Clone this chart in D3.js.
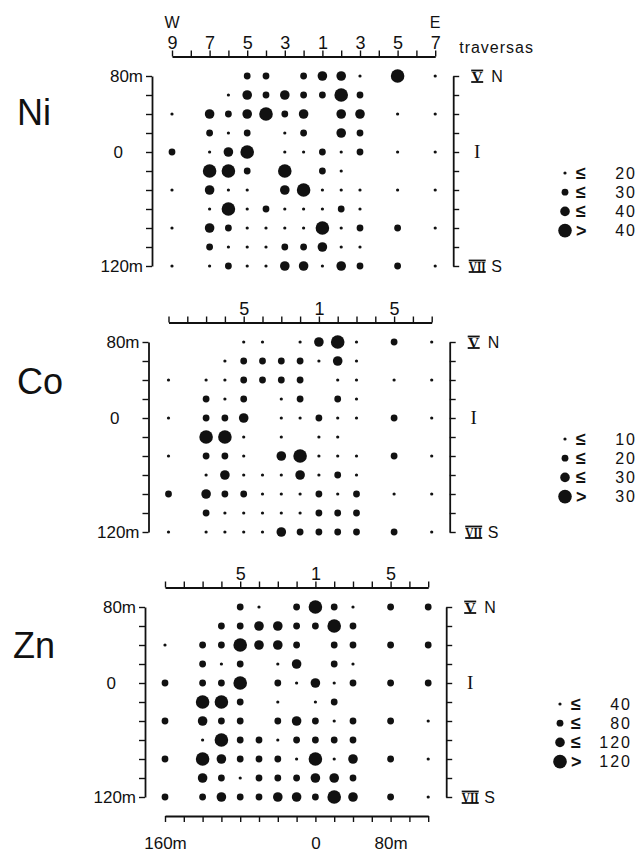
<!DOCTYPE html>
<html><head><meta charset="utf-8">
<script src="https://cdn.jsdelivr.net/npm/d3@7"></script>
<style>
body{margin:0;background:#fff}
svg{display:block}
text{font-family:"Liberation Sans",Arial,sans-serif;fill:#111}
</style></head><body>
<svg id="chart" width="642" height="855"></svg>
<script>
// Sampling grid: traverse positions (m east of traverse 1) and line positions (m north of line I)
const eastings = [-160,-140,-120,-100,-80,-60,-40,-20,0,20,40,60,80,100,120];
const traversaNumbers = [9,8,7,6,5,4,3,2,1,2,3,4,5,6,7];
const northings = [80,60,40,20,0,-20,-40,-60,-80,-100,-120];

const lineLabels = [[80,"80m"],[0,"0"],[-120,"120m"]];
const lineNames = [[80,"V","N"],[0,"I",""],[-120,"VII","S"]];
const scaleLabels = [[-160,"160m"],[0,"0"],[80,"80m"]];

// Concentration classes (ppm)
const niLimits = [20,30,40];
const coLimits = [10,20,30];
const znLimits = [40,80,120];

const _ = null; // no sample
const niValues = [
  [_,_,_,_,25,25,_,25,35,35,15,_,48,_,15],
  [_,_,_,15,35,25,35,25,25,48,25,_,_,_,_],
  [15,_,35,25,35,48,25,35,_,35,35,_,15,_,15],
  [_,_,25,15,25,_,15,25,_,35,25,_,_,_,_],
  [25,_,15,35,48,_,15,15,25,15,25,_,15,_,15],
  [_,_,48,48,25,_,48,_,25,15,_,_,_,_,_],
  [15,_,35,15,15,_,35,48,15,15,15,_,15,_,15],
  [_,_,15,48,15,25,15,15,15,25,15,_,_,_,_],
  [15,_,35,25,15,15,15,15,48,15,25,_,25,_,15],
  [_,_,25,15,15,15,25,25,35,15,15,_,_,_,_],
  [15,_,15,25,15,15,35,35,15,35,25,_,25,_,15]
];
const coValues = [
  [_,_,_,_,6,6,_,6,25,36,6,_,15,_,6],
  [_,_,_,6,15,15,15,15,6,25,6,_,_,_,_],
  [6,_,6,6,15,15,15,15,_,6,6,_,6,_,6],
  [_,_,15,6,15,_,6,15,_,15,6,_,_,_,_],
  [6,_,15,15,25,_,6,6,15,6,6,_,15,_,6],
  [_,_,36,36,6,_,6,_,6,6,_,_,_,_,_],
  [6,_,15,15,6,_,25,36,6,6,6,_,15,_,6],
  [_,_,6,25,6,6,6,25,6,15,6,_,_,_,_],
  [15,_,25,15,15,6,6,6,15,6,15,_,6,_,6],
  [_,_,15,6,6,6,6,6,15,15,15,_,_,_,_],
  [6,_,6,6,6,6,25,15,15,15,15,_,15,_,6]
];
const znValues = [
  [_,_,_,_,60,30,_,60,150,60,30,_,60,_,60],
  [_,_,_,60,60,100,100,60,60,150,60,_,_,_,_],
  [30,_,60,60,150,100,100,60,_,60,60,_,60,_,60],
  [_,_,60,30,60,_,30,100,_,60,30,_,_,_,_],
  [60,_,60,60,150,_,60,30,100,30,60,_,60,_,60],
  [_,_,150,150,60,_,30,_,30,60,_,_,_,_,_],
  [60,_,100,60,60,_,60,100,60,30,60,_,60,_,30],
  [_,_,30,150,60,60,30,60,60,60,60,_,_,_,_],
  [60,_,150,100,60,60,60,30,150,30,100,_,60,_,30],
  [_,_,100,60,30,60,60,60,100,100,60,_,_,_,_],
  [60,_,60,100,60,60,100,100,60,150,100,_,60,_,30]
];

// Layout of the three maps
const panels = [
  {name:"Ni", values:niValues, limits:niLimits, x0:172, y0:76, nameX:17, nameDy:49, legendX:565, topLabels:[0,2,4,6,8,10,12,14], compass:true},
  {name:"Co", values:coValues, limits:coLimits, x0:168.5, y0:342, nameX:17, nameDy:52, legendX:565, topLabels:[4,8,12]},
  {name:"Zn", values:znValues, limits:znLimits, x0:165, y0:607, nameX:13, nameDy:51, legendX:560, topLabels:[4,8,12], bottomScale:true}
];

const colStep = 18.8, rowStep = 19;
const radii = [1.6, 3.4, 4.8, 6.8];
const ink = "#111";
const svg = d3.select("#chart");

function styleAxis(g, size){
  g.select(".domain").attr("stroke", ink).attr("stroke-width", 1.8);
  g.selectAll(".tick line").attr("stroke", ink).attr("stroke-width", 1.4);
  g.selectAll(".tick text").attr("fill", ink)
    .style("font-family", '"Liberation Sans",Arial,sans-serif').style("font-size", size + "px");
}

panels.forEach(p => {
  const x = d3.scaleLinear()
    .domain([eastings[0], eastings[eastings.length - 1]])
    .range([p.x0, p.x0 + colStep * (eastings.length - 1)]);
  const y = d3.scaleLinear()
    .domain([northings[0], northings[northings.length - 1]])
    .range([p.y0, p.y0 + rowStep * (northings.length - 1)]);
  const r = d3.scaleThreshold().domain(p.limits).range(radii);
  const g = svg.append("g");

  const xLeft = x.range()[0] - 20, xRight = x.range()[1] + 18;
  const yTop = p.y0 - 19.5;

  // traverse numbers along the top
  const topAxis = g.append("g").attr("transform", `translate(0,${yTop})`)
    .call(d3.axisTop(x).tickValues(eastings).tickSize(6).tickSizeOuter(0).tickPadding(2)
      .tickFormat((d, i) => p.topLabels.includes(i) ? traversaNumbers[i] : ""));
  styleAxis(topAxis, 18);

  if (p.compass) {
    g.append("text").attr("x", x(eastings[0])).attr("y", 28).attr("text-anchor", "middle")
      .style("font-size", "16px").text("W");
    g.append("text").attr("x", x(eastings[eastings.length - 1])).attr("y", 28).attr("text-anchor", "middle")
      .style("font-size", "16px").text("E");
    g.append("text").attr("x", xRight + 6).attr("y", yTop - 4)
      .style("font-size", "16px").style("letter-spacing", "1px").text("traversas");
  }

  // left distance scale
  const leftAxis = g.append("g").attr("transform", `translate(${xLeft},0)`)
    .call(d3.axisLeft(y).tickValues(northings).tickSize(6).tickSizeOuter(0).tickFormat(""));
  styleAxis(leftAxis, 17);
  g.selectAll("text.dist").data(lineLabels).join("text").attr("class", "dist")
    .attr("x", d => d[0] === 0 ? xLeft - 29 : xLeft - 9)
    .attr("y", d => y(d[0]) + 6)
    .attr("text-anchor", "end").style("font-size", "17px").text(d => d[1]);

  // right line numbering (roman numerals with bars)
  const rightAxis = g.append("g").attr("transform", `translate(${xRight},0)`)
    .call(d3.axisRight(y).tickValues(northings).tickSize(6).tickSizeOuter(0).tickFormat(""));
  styleAxis(rightAxis, 17);
  const names = g.selectAll("g.line-name").data(lineNames).join("g").attr("class", "line-name")
    .attr("transform", d => `translate(${xRight + 24},${y(d[0])})`);
  names.append("text").attr("y", 6).attr("text-anchor", "middle")
    .style("font-family", '"Liberation Serif","DejaVu Serif",serif')
    .style("font-weight", d => d[1] === "I" ? "normal" : "bold")
    .style("font-size", d => d[1] === "I" ? "19px" : "15px")
    .each(function(d){ if (d[1].length > 1) d3.select(this).attr("textLength", 17).attr("lengthAdjust", "spacingAndGlyphs"); })
    .text(d => d[1]);
  names.filter(d => d[1] !== "I").each(function(d){
    const w = d[1].length > 1 ? 8.5 : 6;
    const s = d3.select(this);
    [-5.5, 6].forEach(yy => s.append("line").attr("x1", -w).attr("x2", w).attr("y1", yy).attr("y2", yy)
      .attr("stroke", ink).attr("stroke-width", 1.8));
  });
  names.append("text").attr("x", 14).attr("y", 6).style("font-size", "16px").text(d => d[2]);

  // element name
  g.append("text").attr("x", p.nameX).attr("y", p.y0 + p.nameDy)
    .style("font-size", "36px").text(p.name);

  // sample points
  const cells = [];
  p.values.forEach((row, ri) => row.forEach((v, ci) => {
    if (v != null) cells.push({e: eastings[ci], n: northings[ri], v});
  }));
  g.selectAll("circle.sample").data(cells).join("circle").attr("class", "sample")
    .attr("cx", d => x(d.e)).attr("cy", d => y(d.n)).attr("r", d => r(d.v)).attr("fill", ink);

  // class legend
  const entries = p.limits.map(l => ({sym: "\u2264", lim: l})).concat([{sym: ">", lim: p.limits[p.limits.length - 1]}]);
  const leg = g.selectAll("g.legend").data(entries).join("g").attr("class", "legend")
    .attr("transform", (d, i) => `translate(${p.legendX},${p.y0 + 97 + 19.2 * i})`);
  leg.append("circle").attr("r", (d, i) => radii[i]).attr("fill", ink);
  leg.append("text").attr("x", 11).attr("y", 6).style("font-size", "18px").style("font-weight", "bold").text(d => d.sym);
  leg.append("text").attr("x", 72).attr("y", 5.5).attr("text-anchor", "end")
    .style("font-size", "16px").style("letter-spacing", "2px").text(d => d.lim);

  // metre scale below the last map
  if (p.bottomScale) {
    const lab = new Map(scaleLabels);
    const bottom = g.append("g").attr("transform", `translate(0,${y.range()[1] + 19})`)
      .call(d3.axisBottom(x).tickValues(eastings).tickSize(6).tickSizeOuter(0).tickPadding(15)
        .tickFormat(d => lab.has(d) ? lab.get(d) : ""));
    styleAxis(bottom, 17);
  }
});
</script>
</body></html>
